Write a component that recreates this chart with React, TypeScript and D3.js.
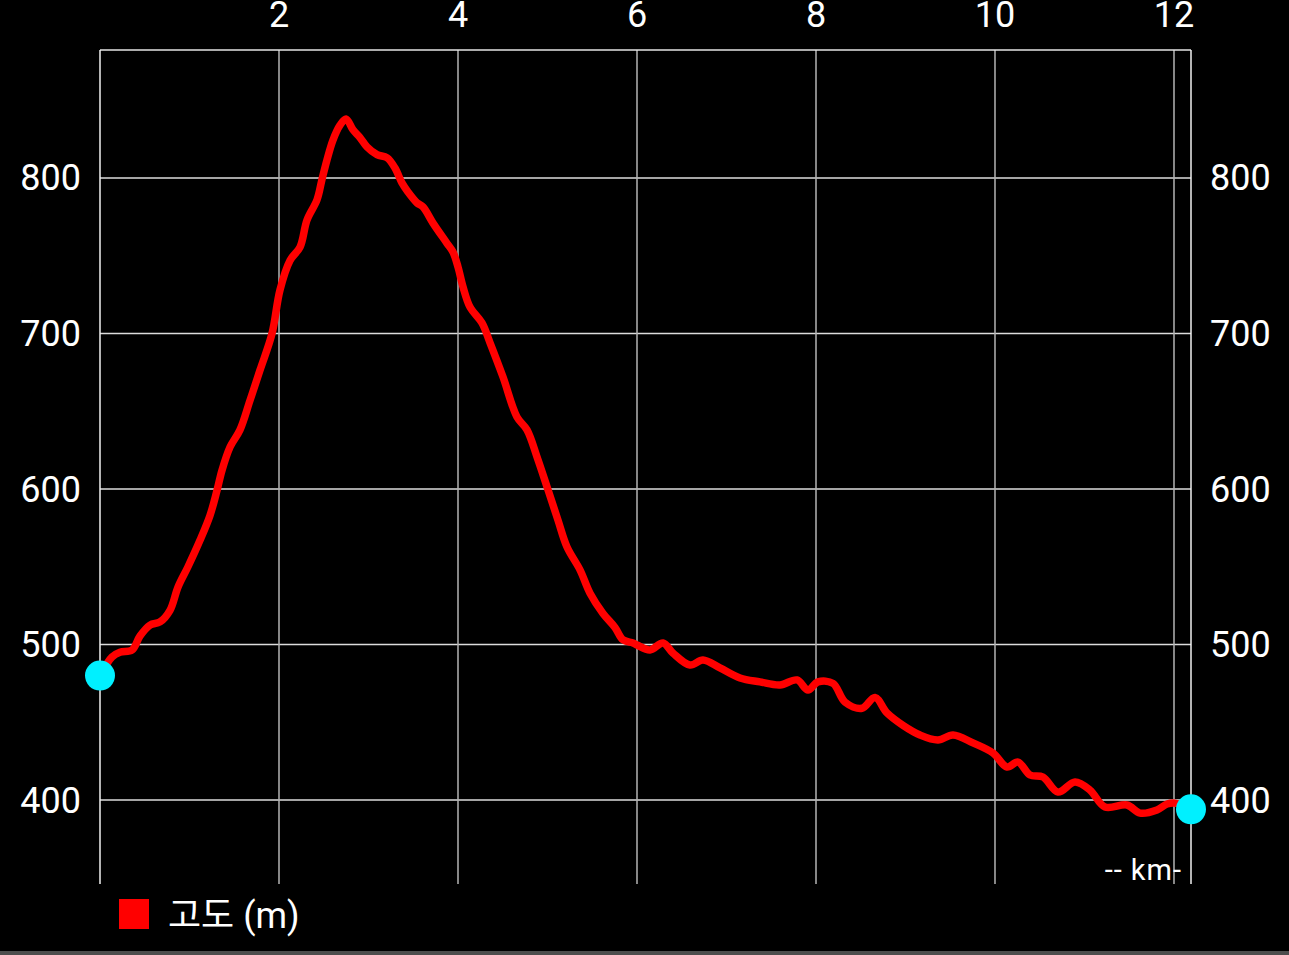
import React from "react";
import * as d3 from "d3";

const distanceKm = [
  0.0, 0.134, 0.223, 0.358, 0.447, 0.559, 0.67, 0.782, 0.872, 0.983, 1.117, 1.229, 1.307, 1.363,
  1.453, 1.564, 1.676, 1.788, 1.922, 2.011, 2.123, 2.235, 2.313, 2.425, 2.48, 2.536, 2.603, 2.682,
  2.749, 2.827, 2.905, 2.983, 3.095, 3.207, 3.296, 3.374, 3.441, 3.542, 3.609, 3.721, 3.877, 3.944,
  4.0, 4.056, 4.134, 4.268, 4.358, 4.503, 4.659, 4.771, 4.883, 5.006, 5.117, 5.218, 5.363, 5.475,
  5.62, 5.754, 5.844, 5.955, 6.0, 6.145, 6.291, 6.402, 6.592, 6.737, 6.927, 7.151, 7.374, 7.598,
  7.788, 7.911, 8.022, 8.19, 8.324, 8.514, 8.659, 8.793, 8.972, 9.162, 9.363, 9.531, 9.754, 9.978,
  10.134, 10.257, 10.391, 10.536, 10.704, 10.894, 11.061, 11.229, 11.475, 11.62, 11.81, 11.922,
  12.011, 12.19,
];

const elevationM = [
  480, 492, 495, 496.5, 505.5, 512.5, 514.5, 522, 537, 550, 567, 583, 599, 612, 627, 638, 657, 676.5,
  700, 728, 747, 755.6, 773, 786, 799, 811.6, 824.4, 834, 838, 831, 826, 820, 815, 813, 806.4, 796.8,
  791, 784, 781.4, 771, 758, 752.4, 742.8, 730, 717, 706.8, 694, 672, 646.3, 638, 620.6, 599.4, 580,
  562.7, 548, 533, 520, 511, 503, 501, 499.7, 496.5, 501, 494.5, 486.8, 490, 485, 478.5, 476, 474,
  477.2, 470.7, 476, 475, 463, 459, 466, 456, 448, 441.8, 438.6, 441.8, 436.7, 430.2, 421.2, 424.4,
  416.1, 414.8, 405.1, 411.6, 406.4, 395.5, 396.8, 391.6, 393.6, 397.4, 398, 394,
];

const xTicks = [2, 4, 6, 8, 10, 12];
const yTicks = [400, 500, 600, 700, 800];
const xDomain = [0, 12.19];
const yDomain = [346, 882.3];
const legendLabel = "고도 (m)";
const unitLabel = "-- km-";

const W = 1289;
const H = 955;
const FONT = "Roboto, 'Noto Sans CJK KR', sans-serif";

export default function App() {
  const left = 100;
  const right = 1191;
  const top = 50;
  const bottom = 884;

  const x = d3.scaleLinear().domain(xDomain).range([left, right]);
  const y = d3.scaleLinear().domain(yDomain).range([bottom, top]);

  const pts: [number, number][] = distanceKm.map((d, i) => [d, elevationM[i]]);
  const line = d3
    .line<[number, number]>()
    .x((d) => x(d[0]))
    .y((d) => y(d[1]))
    .curve(d3.curveCatmullRom.alpha(0.5));

  const first = pts[0];
  const last = pts[pts.length - 1];

  return (
    <svg
      width={W}
      height={H}
      style={{ position: "absolute", left: 0, top: 0, display: "block" }}
    >
      <rect x={0} y={0} width={W} height={H} fill="#000" />
      <rect x={0} y={951} width={W} height={H - 951} fill="#4d4d4d" />

      {yTicks.map((t) => (
        <line
          key={"h" + t}
          x1={left}
          x2={right}
          y1={y(t)}
          y2={y(t)}
          stroke="#dcdcdc"
          strokeWidth={1.5}
        />
      ))}
      {xTicks.map((t) => (
        <line
          key={"v" + t}
          x1={x(t)}
          x2={x(t)}
          y1={top}
          y2={bottom}
          stroke="#b4b4b4"
          strokeWidth={1.5}
        />
      ))}
      <line x1={left} x2={right} y1={top} y2={top} stroke="#e6e6e6" strokeWidth={1.5} />
      <line x1={left} x2={left} y1={top} y2={bottom} stroke="#f0f0f0" strokeWidth={1.5} />
      <line x1={right} x2={right} y1={top} y2={bottom} stroke="#f0f0f0" strokeWidth={1.5} />

      {xTicks.map((t) => (
        <text
          key={"xl" + t}
          x={x(t)}
          y={27}
          fill="#fff"
          fontFamily={FONT}
          fontSize={36}
          textAnchor="middle"
        >
          {t}
        </text>
      ))}
      {yTicks.map((t) => (
        <text
          key={"yl" + t}
          x={81}
          y={y(t) + 12.5}
          fill="#fff"
          fontFamily={FONT}
          fontSize={36}
          textAnchor="end"
        >
          {t}
        </text>
      ))}
      {yTicks.map((t) => (
        <text
          key={"yr" + t}
          x={1210}
          y={y(t) + 12.5}
          fill="#fff"
          fontFamily={FONT}
          fontSize={36}
          textAnchor="start"
        >
          {t}
        </text>
      ))}

      <text
        x={1182}
        y={880}
        fill="#fff"
        fontFamily={FONT}
        fontSize={29}
        letterSpacing={1}
        textAnchor="end"
      >
        {unitLabel}
      </text>

      <path
        d={line(pts) || ""}
        fill="none"
        stroke="#ff0000"
        strokeWidth={7.5}
        strokeLinejoin="round"
        strokeLinecap="round"
      />

      <circle cx={x(first[0])} cy={y(first[1])} r={15} fill="#00f0ff" />
      <circle cx={x(last[0])} cy={y(last[1])} r={15} fill="#00f0ff" />

      <rect x={119} y={899} width={30} height={30} fill="#ff0000" />
      <text x={168} y={928} fill="#fff" fontFamily={FONT} fontSize={36}>
        {legendLabel}
      </text>
    </svg>
  );
}
